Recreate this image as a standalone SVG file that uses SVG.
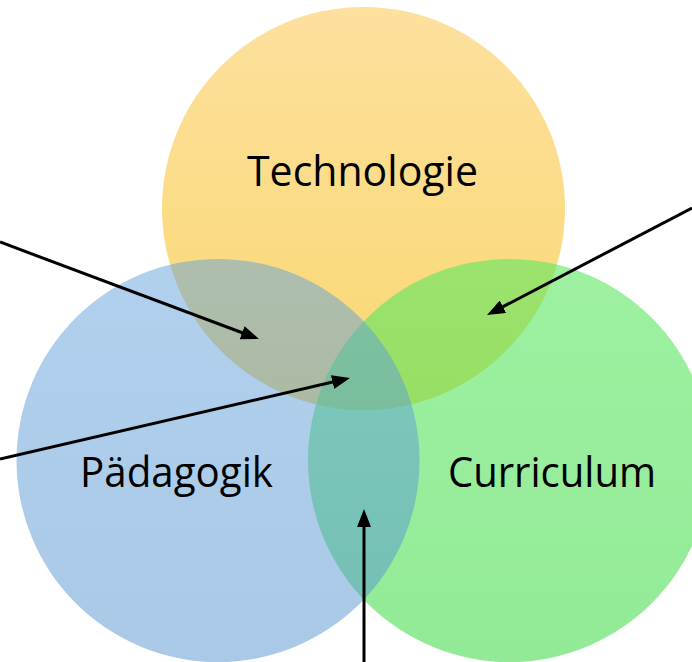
<svg xmlns="http://www.w3.org/2000/svg" width="692" height="662" viewBox="0 0 692 662">
<style>
.lbl{font-family:"Open Sans","Noto Sans",sans-serif;font-size:42px;fill:#000;text-anchor:middle}
.arr{stroke:#000;stroke-width:3;fill:none;marker-end:url(#ah)}
</style>
<defs>
<linearGradient id="gy" x1="0" y1="0" x2="0" y2="1">
<stop offset="0" stop-color="#FDE09E"/><stop offset="1" stop-color="#FAD870"/>
</linearGradient>
<linearGradient id="gg" x1="0" y1="0" x2="0" y2="1">
<stop offset="0" stop-color="#5CE862"/><stop offset="1" stop-color="#4ADC50"/>
</linearGradient>
<linearGradient id="gb" x1="0" y1="0" x2="0" y2="1">
<stop offset="0" stop-color="#62A2DB"/><stop offset="1" stop-color="#5593CF"/>
</linearGradient>
<marker id="ah" viewBox="0 0 18 14" refX="8" refY="7" markerWidth="18" markerHeight="14" markerUnits="userSpaceOnUse" orient="auto">
<path d="M0,0 L18,7 L0,14 z" fill="#000"/>
</marker>
</defs>
<g id="technologie">
<circle cx="363.5" cy="208.5" r="201.5" fill="url(#gy)"/>
</g>
<g id="curriculum">
<circle cx="509.5" cy="460.5" r="201.5" fill="url(#gg)" fill-opacity="0.6"/>
</g>
<g id="paedagogik">
<circle cx="218" cy="460.5" r="201.5" fill="url(#gb)" fill-opacity="0.5"/>
</g>
<g id="labels">
<text class="lbl" x="362.5" y="186" textLength="231" lengthAdjust="spacingAndGlyphs">Technologie</text>
<text class="lbl" x="176.5" y="487" textLength="193" lengthAdjust="spacingAndGlyphs">Pädagogik</text>
<text class="lbl" x="552" y="487" textLength="208" lengthAdjust="spacingAndGlyphs">Curriculum</text>
</g>
<g id="connectors">
<path class="arr" d="M0,242 L249.6,335.5"/>
<path class="arr" d="M0,459 L340.3,380.3"/>
<path class="arr" d="M692,208 L495.9,310.4"/>
<path class="arr" d="M364,662 L364,519"/>
</g>
</svg>
